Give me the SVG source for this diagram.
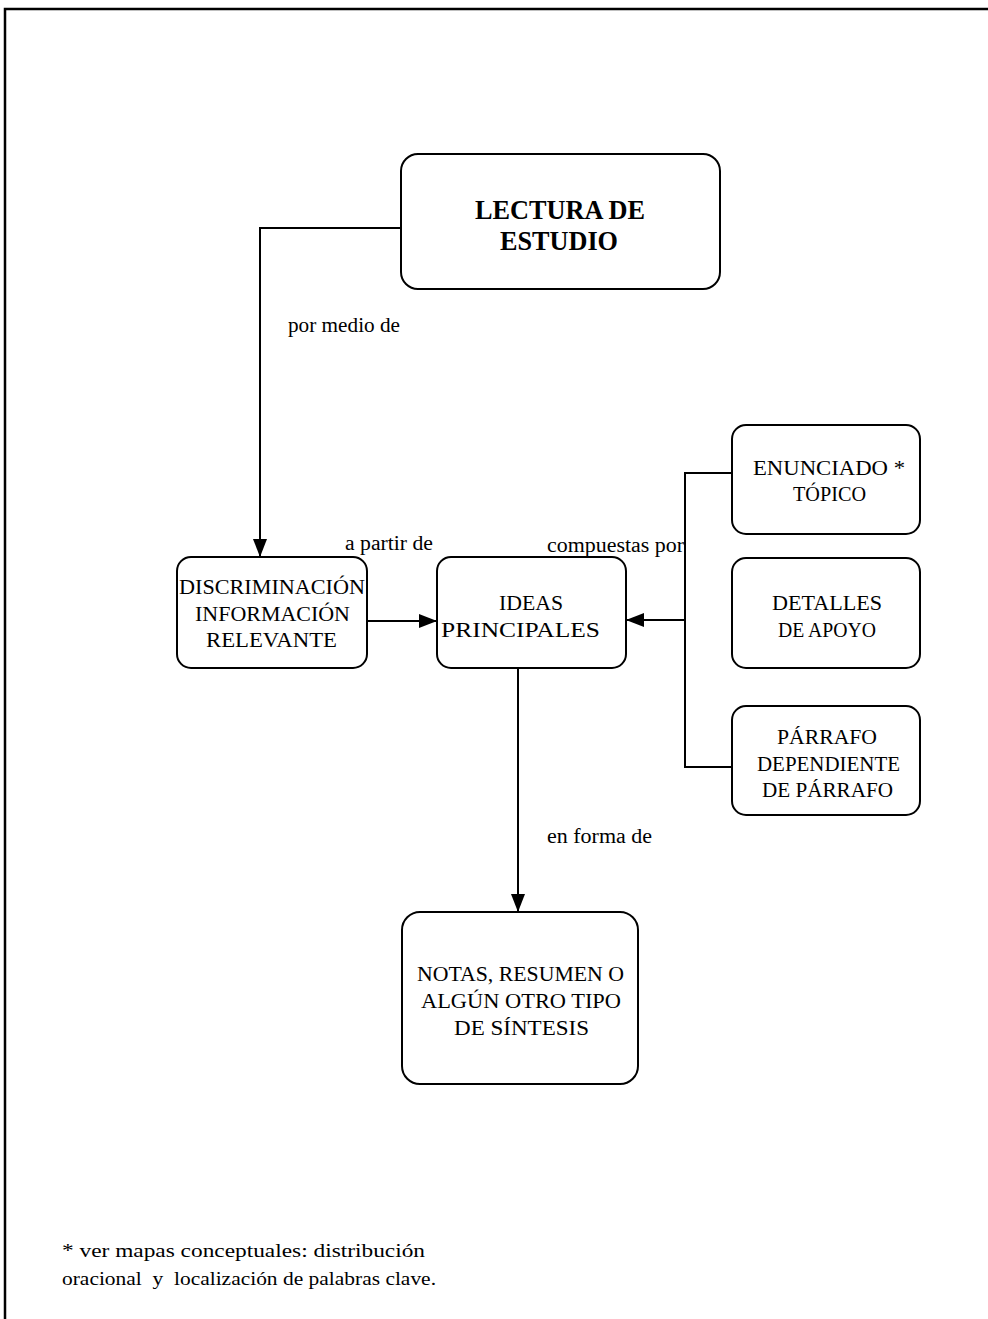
<svg xmlns="http://www.w3.org/2000/svg" width="988" height="1319" viewBox="0 0 988 1319">
  <defs>
    <marker id="arrow" viewBox="0 0 18 14" refX="18" refY="7" markerWidth="18" markerHeight="14" markerUnits="userSpaceOnUse" orient="auto">
      <path d="M0,0 L18,7 L0,14 Z" fill="#000"/>
    </marker>
    <style>
      .box { fill: #fff; stroke: #000; stroke-width: 2; }
      .node { font-family: "Liberation Serif", "Times New Roman", serif; font-size: 22px; fill: #000; }
      .title { font-family: "Liberation Serif", "Times New Roman", serif; font-size: 27px; font-weight: bold; fill: #000; }
      .label { font-family: "Liberation Serif", "Times New Roman", serif; font-size: 20px; fill: #000; }
      .note { font-family: "Liberation Serif", "Times New Roman", serif; font-size: 18px; fill: #000; }
      .wire { fill: none; stroke: #000; stroke-width: 2; }
      .frame { fill: none; stroke: #000; stroke-width: 2.5; }
    </style>
  </defs>
  <rect width="988" height="1319" fill="#fff"/>

  <!-- page frame: top and left edges -->
  <path class="frame" d="M5,1319 L5,9 L988,9"/>

  <!-- connectors -->
  <g id="connectors">
    <path class="wire" d="M401,228 L260,228 L260,557" marker-end="url(#arrow)"/>
    <path class="wire" d="M367,621 L437,621" marker-end="url(#arrow)"/>
    <path class="wire" d="M732,473 L685,473 L685,767 L732,767"/>
    <path class="wire" d="M685,620 L626,620" marker-end="url(#arrow)"/>
    <path class="wire" d="M518,668 L518,912" marker-end="url(#arrow)"/>
    <text class="label" x="288" y="332" textLength="112" lengthAdjust="spacingAndGlyphs">por medio de</text>
    <text class="label" x="345" y="550" textLength="88" lengthAdjust="spacingAndGlyphs">a partir de</text>
    <text class="label" x="547" y="552" textLength="137" lengthAdjust="spacingAndGlyphs">compuestas por</text>
    <text class="label" x="547" y="843" textLength="105" lengthAdjust="spacingAndGlyphs">en forma de</text>
  </g>

  <g id="lectura">
    <rect class="box" x="401" y="154" width="319" height="135" rx="17"/>
    <text class="title" x="475" y="219" textLength="170" lengthAdjust="spacingAndGlyphs">LECTURA DE</text>
    <text class="title" x="500" y="250" textLength="118" lengthAdjust="spacingAndGlyphs">ESTUDIO</text>
  </g>

  <g id="discriminacion">
    <rect class="box" x="177" y="557" width="190" height="111" rx="14"/>
    <text class="node" x="179" y="594" textLength="186" lengthAdjust="spacingAndGlyphs">DISCRIMINACIÓN</text>
    <text class="node" x="195" y="621" textLength="155" lengthAdjust="spacingAndGlyphs">INFORMACIÓN</text>
    <text class="node" x="206" y="647" textLength="131" lengthAdjust="spacingAndGlyphs">RELEVANTE</text>
  </g>

  <g id="ideas">
    <rect class="box" x="437" y="557" width="189" height="111" rx="14"/>
    <text class="node" x="499" y="610" textLength="64" lengthAdjust="spacingAndGlyphs">IDEAS</text>
    <text class="node" x="441" y="637" textLength="159" lengthAdjust="spacingAndGlyphs">PRINCIPALES</text>
  </g>

  <g id="enunciado">
    <rect class="box" x="732" y="425" width="188" height="109" rx="14"/>
    <text class="node" x="753" y="475" textLength="152" lengthAdjust="spacingAndGlyphs">ENUNCIADO *</text>
    <text class="node" x="793" y="501" textLength="73" lengthAdjust="spacingAndGlyphs">TÓPICO</text>
  </g>

  <g id="detalles">
    <rect class="box" x="732" y="558" width="188" height="110" rx="14"/>
    <text class="node" x="772" y="610" textLength="110" lengthAdjust="spacingAndGlyphs">DETALLES</text>
    <text class="node" x="778" y="637" textLength="98" lengthAdjust="spacingAndGlyphs">DE APOYO</text>
  </g>

  <g id="parrafo">
    <rect class="box" x="732" y="706" width="188" height="109" rx="14"/>
    <text class="node" x="777" y="744" textLength="100" lengthAdjust="spacingAndGlyphs">PÁRRAFO</text>
    <text class="node" x="757" y="771" textLength="143" lengthAdjust="spacingAndGlyphs">DEPENDIENTE</text>
    <text class="node" x="762" y="797" textLength="131" lengthAdjust="spacingAndGlyphs">DE PÁRRAFO</text>
  </g>

  <g id="notas">
    <rect class="box" x="402" y="912" width="236" height="172" rx="18"/>
    <text class="node" x="417" y="981" textLength="207" lengthAdjust="spacingAndGlyphs">NOTAS, RESUMEN O</text>
    <text class="node" x="421" y="1008" textLength="200" lengthAdjust="spacingAndGlyphs">ALGÚN OTRO TIPO</text>
    <text class="node" x="454" y="1035" textLength="135" lengthAdjust="spacingAndGlyphs">DE SÍNTESIS</text>
  </g>

  <!-- footnote -->
  <g id="footnote">
    <text class="note" x="62" y="1257" textLength="363" lengthAdjust="spacingAndGlyphs">* ver mapas conceptuales: distribución</text>
    <text class="note" x="62" y="1285" textLength="374" lengthAdjust="spacingAndGlyphs" xml:space="preserve">oracional  y  localización de palabras clave.</text>
  </g>
</svg>
